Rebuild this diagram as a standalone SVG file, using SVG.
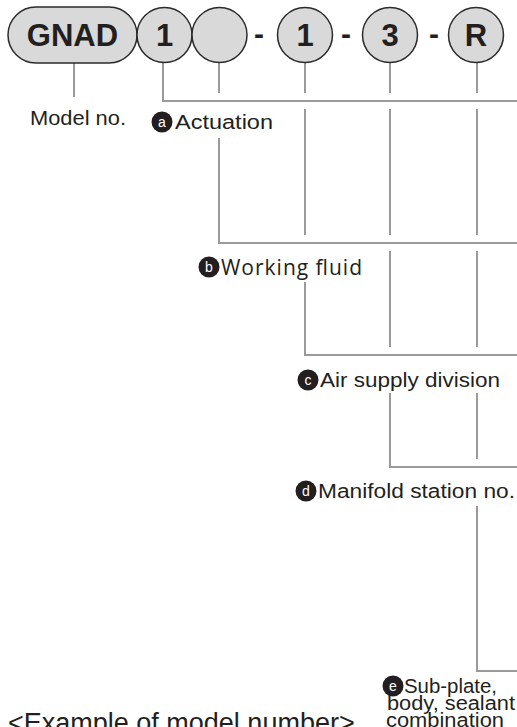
<svg xmlns="http://www.w3.org/2000/svg" width="517" height="727" viewBox="0 0 517 727">
<style>
.code{fill:#d9d9d9;stroke:#2b2b2b;stroke-width:1.5}
.ct{font-family:"Liberation Sans",Arial,sans-serif;font-weight:bold;font-size:31px;fill:#231f20;text-anchor:middle}
.dash{font-family:"Liberation Sans",Arial,sans-serif;font-weight:bold;font-size:30px;fill:#231f20;text-anchor:middle}
.ln{fill:none;stroke:#9a9a9a;stroke-width:2}
.lbl{font-family:"Liberation Sans",Arial,sans-serif;font-size:20px;fill:#231f20}
.lbl2{font-family:"Open Sans","Liberation Sans",sans-serif;font-size:21px;fill:#231f20}
.cap{font-family:"Liberation Sans",Arial,sans-serif;font-size:27px;fill:#231f20}
.bd{fill:#231f20}
.bt{font-family:"Liberation Sans",Arial,sans-serif;font-size:14px;fill:#fff;text-anchor:middle}
</style>
<rect width="517" height="727" fill="#fff"/>
<g id="connectors">
<path class="ln" d="M74 63V97"/>
<path class="ln" d="M163 62V101H517"/>
<path class="ln" d="M219 62V93M219 138V243H517"/>
<path class="ln" d="M305 62V93M305 109V235M305 282V355H517"/>
<path class="ln" d="M390 62V93M390 109V235M390 251V347M390 393V467H517"/>
<path class="ln" d="M477 62V93M477 109V235M477 251V347M477 393V459M477 506V671H517"/>
</g>
<g id="code-gnad"><rect class="code" x="8" y="7" width="129" height="56" rx="28"/><text class="ct" x="72.5" y="46">GNAD</text></g>
<g id="code-a"><circle class="code" cx="164.5" cy="35" r="27.5"/><text class="ct" x="164.5" y="46">1</text></g>
<g id="code-b"><circle class="code" cx="219.5" cy="35" r="27.5"/></g>
<g id="sep1"><text class="dash" x="259" y="44">-</text></g>
<g id="code-c"><circle class="code" cx="305" cy="35" r="27.5"/><text class="ct" x="305" y="46">1</text></g>
<g id="sep2"><text class="dash" x="346" y="44">-</text></g>
<g id="code-d"><circle class="code" cx="390" cy="35" r="27.5"/><text class="ct" x="390" y="46">3</text></g>
<g id="sep3"><text class="dash" x="434" y="44">-</text></g>
<g id="code-e"><circle class="code" cx="476" cy="35" r="27.5"/><text class="ct" x="476" y="46">R</text></g>
<g id="label-model"><text class="lbl" x="30" y="125" textLength="96" lengthAdjust="spacingAndGlyphs">Model no.</text></g>
<g id="label-a"><circle class="bd" cx="162" cy="122" r="10.5"/><text class="bt" x="162" y="127">a</text><text class="lbl" x="175" y="129" textLength="98" lengthAdjust="spacingAndGlyphs">Actuation</text></g>
<g id="label-b"><circle class="bd" cx="209" cy="267" r="10.5"/><text class="bt" x="209" y="272">b</text><text class="lbl2" x="221" y="275" textLength="141">Working fluid</text></g>
<g id="label-c"><circle class="bd" cx="308" cy="380" r="10.5"/><text class="bt" x="308" y="385">c</text><text class="lbl" x="320" y="387" textLength="180" lengthAdjust="spacingAndGlyphs">Air supply division</text></g>
<g id="label-d"><circle class="bd" cx="306" cy="491" r="10.5"/><text class="bt" x="306" y="496">d</text><text class="lbl" x="318" y="498" textLength="197" lengthAdjust="spacingAndGlyphs">Manifold station no.</text></g>
<g id="label-e"><circle class="bd" cx="393" cy="686" r="10.5"/><text class="bt" x="393" y="691">e</text>
<text class="lbl" x="404" y="693" textLength="93" lengthAdjust="spacingAndGlyphs">Sub-plate,</text><text class="lbl" x="387" y="710" textLength="128" lengthAdjust="spacingAndGlyphs">body, sealant</text><text class="lbl" x="386" y="727" textLength="118" lengthAdjust="spacingAndGlyphs">combination</text></g>
<g id="caption"><text class="cap" x="8" y="732">&lt;Example of model number&gt;</text></g>
</svg>
